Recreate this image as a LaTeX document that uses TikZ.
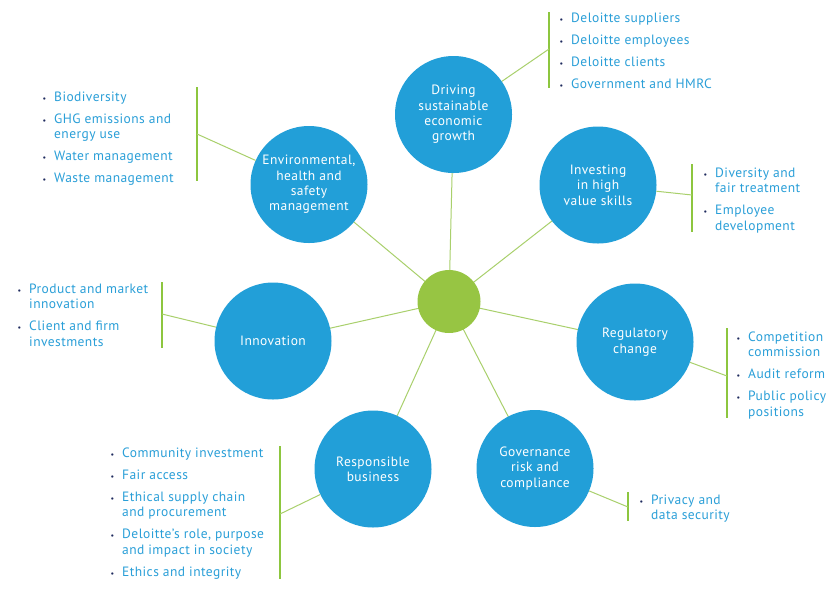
\documentclass[tikz,border=0pt]{standalone}
\usepackage{fontspec}
\setmainfont{PT Sans}[LetterSpace=3.2]
\usetikzlibrary{backgrounds}
\definecolor{cblue}{HTML}{229FD8}
\definecolor{tblue}{HTML}{2A9FD8}
\definecolor{cgreen}{HTML}{97C543}
\definecolor{lgreen}{HTML}{A9D06C}
\definecolor{bgreen}{HTML}{8DC63F}
\definecolor{navy}{HTML}{1E2A5E}
\newcommand{\bl}{\makebox[12pt][l]{\hspace{0.3pt}{\color{navy}\fontsize{8}{8}\selectfont\textbullet}}}
\tikzset{
 topic/.style={circle, fill=cblue, minimum size=117pt, inner sep=0pt, text=white, align=center, font=\fontsize{13.5}{15.3}\selectfont},
 hub/.style={circle, fill=cgreen, minimum size=63pt, inner sep=0pt},
 spoke/.style={draw=lgreen, line width=1pt},
 bracket/.style={draw=bgreen, line width=1.2pt},
 link/.style={draw=lgreen, line width=1pt},
 blist/.style={anchor=base west, inner sep=0pt, text=tblue, font=\fontsize{13.5}{15.5}\selectfont},
}
\begin{document}
\begin{tikzpicture}[x=1pt,y=-1pt]
\useasboundingbox (0,0) rectangle (840,598);

\node[hub] (hub) at (449,301.5) {};
\node[topic] (drv) at (453.5,114.5) {Driving\\sustainable\\economic\\growth};
\node[topic] (inv) at (598,185) {Investing\\in high\\value skills};
\node[topic] (reg) at (635,342) {Regulatory\\change};
\node[topic] (gov) at (535,468.5) {Governance\\risk and\\compliance};
\node[topic] (res) at (373,469) {Responsible\\business};
\node[topic] (inn) at (273,341) {Innovation};
\node[topic] (env) at (309,184.5) {Environmental,\\health and\\safety\\management};

\begin{scope}[on background layer]
\fill[white] (0,0) rectangle (840,598);
\foreach \t in {drv,inv,reg,gov,res,inn,env}
  \draw[spoke] (hub.center) -- (\t.center);
\end{scope}

% brackets
\coordinate (drvt) at (549,12);  \coordinate (drvb) at (549,88);  \coordinate (drvj) at (549,49);
\coordinate (invt) at (692,164); \coordinate (invb) at (692,232); \coordinate (invj) at (692,195);
\coordinate (regt) at (727,328); \coordinate (regb) at (727,418); \coordinate (regj) at (727,376);
\coordinate (govt) at (628,492); \coordinate (govb) at (628,521); \coordinate (govj) at (628,507);
\coordinate (rest) at (280,446); \coordinate (resb) at (280,579); \coordinate (resj) at (280,514);
\coordinate (innt) at (162,282); \coordinate (innb) at (162,348); \coordinate (innj) at (162,314);
\coordinate (envt) at (197,87);  \coordinate (envb) at (197,181); \coordinate (envj) at (197,134);
\foreach \t in {drv,inv,reg,gov,res,inn,env}{
  \draw[bracket] (\t t) -- (\t b);
  \draw[link] (\t) -- (\t j);
}

% lists
\node[blist] (drvl) at (559,22) {\begin{tabular}[t]{@{}l@{}l@{}}
\bl & Deloitte suppliers\\[6.5pt]
\bl & Deloitte employees\\[6.5pt]
\bl & Deloitte clients\\[6.5pt]
\bl & Government and HMRC
\end{tabular}};
\node[blist] (invl) at (703,177) {\begin{tabular}[t]{@{}l@{}l@{}}
\bl & Diversity and\\ & fair treatment\\[6.5pt]
\bl & Employee\\ & development
\end{tabular}};
\node[blist] (regl) at (736,341) {\begin{tabular}[t]{@{}l@{}l@{}}
\bl & Competition\\ & commission\\[6.5pt]
\bl & Audit reform\\[6.5pt]
\bl & Public policy\\ & positions
\end{tabular}};
\node[blist] (govl) at (639,504) {\begin{tabular}[t]{@{}l@{}l@{}}
\bl & Privacy and\\ & data security
\end{tabular}};
\node[blist] (resl) at (110,457) {\begin{tabular}[t]{@{}l@{}l@{}}
\bl & Community investment\\[6.5pt]
\bl & Fair access\\[6.5pt]
\bl & Ethical supply chain\\ & and procurement\\[6.5pt]
\bl & Deloitte’s role, purpose\\ & and impact in society\\[6.5pt]
\bl & Ethics and integrity
\end{tabular}};
\node[blist] (innl) at (17,293) {\begin{tabular}[t]{@{}l@{}l@{}}
\bl & Product and market\\ & innovation\\[6.5pt]
\bl & Client and firm\\ & investments
\end{tabular}};
\node[blist] (envl) at (42,101) {\begin{tabular}[t]{@{}l@{}l@{}}
\bl & Biodiversity\\[6.5pt]
\bl & GHG emissions and\\ & energy use\\[6.5pt]
\bl & Water management\\[6.5pt]
\bl & Waste management
\end{tabular}};
\end{tikzpicture}
\end{document}
